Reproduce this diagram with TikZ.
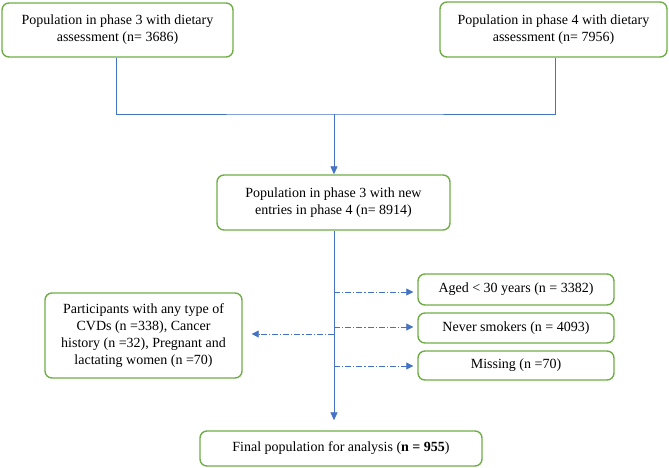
\documentclass[tikz,border=0pt]{standalone}
\usepackage{fontspec}
\setmainfont{Liberation Serif}
\usepackage{tikz}
\usetikzlibrary{arrows.meta}
\definecolor{boxgreen}{RGB}{112,173,71}
\definecolor{flowblue}{RGB}{68,114,196}
\tikzstyle{box} = [draw=boxgreen, line width=1.4pt, rounded corners=7pt, align=center, inner sep=0pt, font=\fontsize{14}{17}\selectfont]
\tikzstyle{flow} = [draw=flowblue, line width=0.8pt]
\tikzstyle{side} = [flow, dash pattern=on 6pt off 2pt on 1.2pt off 2pt, -{Triangle[length=7pt,width=7pt]}]

\begin{document}
\begin{tikzpicture}[x=1pt,y=-1pt]
	\useasboundingbox (0,0) rectangle (669,468);
	\node [box, minimum width=231pt, minimum height=54pt] (ph3) at (117.5,30) {Population in phase 3 with dietary\\assessment (n= 3686)};
	\node [box, minimum width=227pt, minimum height=55pt] (ph4) at (553.5,29.5) {Population in phase 4 with dietary\\assessment (n= 7956)};
	\node [box, minimum width=233pt, minimum height=55pt] (merged) at (333.5,202.5) {Population in phase 3 with new\\entries in phase 4 (n= 8914)};
	\node [box, minimum width=196pt, minimum height=31pt] (aged) at (516,289.5) {Aged < 30 years (n = 3382)};
	\node [box, minimum width=196pt, minimum height=30pt] (smokers) at (516,328) {Never smokers (n = 4093)};
	\node [box, minimum width=196pt, minimum height=29pt] (missing) at (516,365.5) {Missing (n =70)};
	\node [box, minimum width=197pt, minimum height=85pt] (excl) at (143.5,335.5) {Participants with any type of\\CVDs (n =338), Cancer\\history (n =32), Pregnant and\\lactating women (n =70)};
	\node [box, minimum width=282pt, minimum height=35pt] (final) at (341,448.5) {Final population for analysis (\textbf{n = 955})};
	\coordinate (join) at (334,114);
	\draw [flow] (ph3.south -| 116,0) |- (join) -| (ph4.south -| 555,0);
	\draw [flow, -{Triangle[length=8pt,width=7pt]}] (join) -- (join |- merged.north);
	\draw [flow, -{Triangle[length=8pt,width=7pt]}, shorten >=10pt] (merged.south -| join) -- (final.north -| join);
	\draw [side, shorten >=4pt] (334,292) -- (aged.west |- 0,292);
	\draw [side, shorten >=4pt] (334,327) -- (smokers.west |- 0,327);
	\draw [side, shorten >=4pt] (334,366) -- (missing.west |- 0,366);
	\draw [side, shorten >=9pt] (334,334) -- (excl.east |- 0,334);
\end{tikzpicture}
\end{document}
